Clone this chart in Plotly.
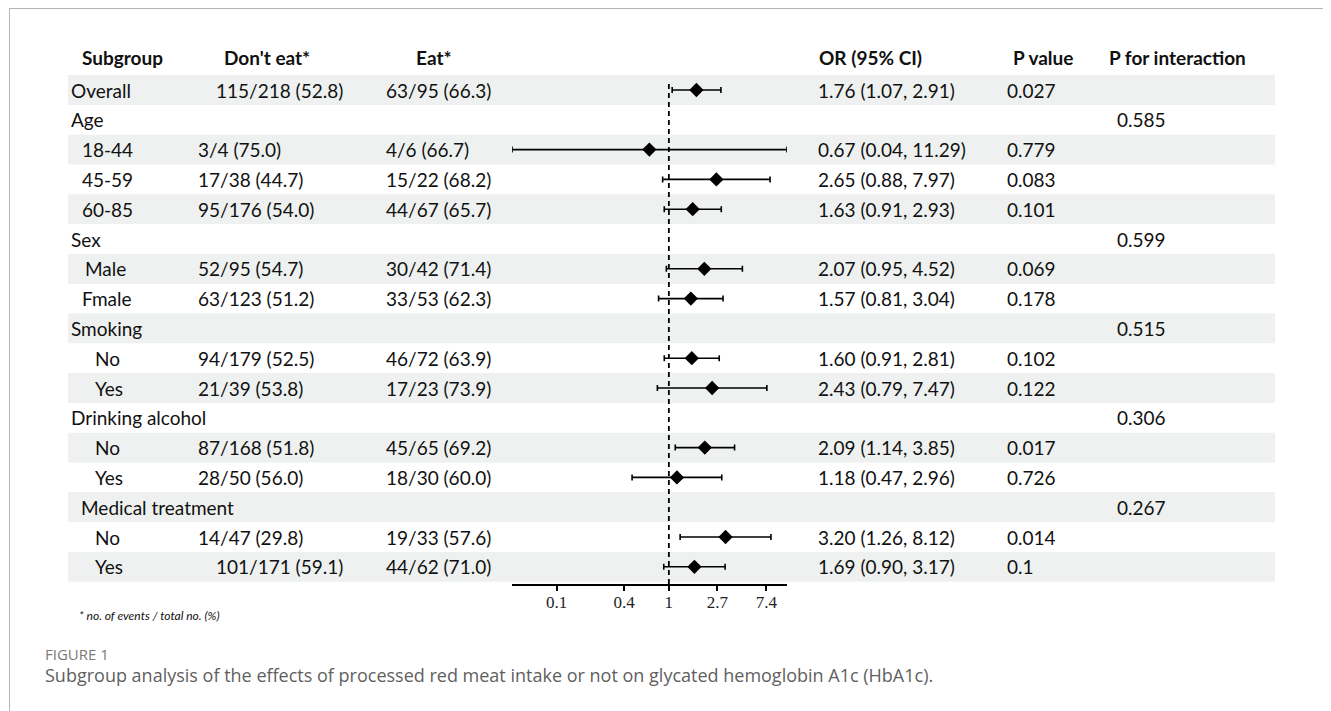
import math
import plotly.graph_objects as go

# ---------------- data ----------------
subgroups = ["Overall", "Age", "18-44", "45-59", "60-85", "Sex", "Male", "Fmale",
             "Smoking", "No", "Yes", "Drinking alcohol", "No", "Yes",
             "Medical treatment", "No", "Yes"]
dont_eat = ["115/218 (52.8)", "", "3/4 (75.0)", "17/38 (44.7)", "95/176 (54.0)", "",
            "52/95 (54.7)", "63/123 (51.2)", "", "94/179 (52.5)", "21/39 (53.8)", "",
            "87/168 (51.8)", "28/50 (56.0)", "", "14/47 (29.8)", "101/171 (59.1)"]
eat = ["63/95 (66.3)", "", "4/6 (66.7)", "15/22 (68.2)", "44/67 (65.7)", "",
       "30/42 (71.4)", "33/53 (62.3)", "", "46/72 (63.9)", "17/23 (73.9)", "",
       "45/65 (69.2)", "18/30 (60.0)", "", "19/33 (57.6)", "44/62 (71.0)"]
or_vals = [1.76, None, 0.67, 2.65, 1.63, None, 2.07, 1.57, None, 1.60, 2.43, None,
           2.09, 1.18, None, 3.20, 1.69]
ci_low = [1.07, None, 0.04, 0.88, 0.91, None, 0.95, 0.81, None, 0.91, 0.79, None,
          1.14, 0.47, None, 1.26, 0.90]
ci_high = [2.91, None, 11.29, 7.97, 2.93, None, 4.52, 3.04, None, 2.81, 7.47, None,
           3.85, 2.96, None, 8.12, 3.17]
p_value = ["0.027", "", "0.779", "0.083", "0.101", "", "0.069", "0.178", "",
           "0.102", "0.122", "", "0.017", "0.726", "", "0.014", "0.1"]
p_interaction = ["", "0.585", "", "", "", "0.599", "", "", "0.515", "", "", "0.306",
                 "", "", "0.267", "", ""]
headers = ["Subgroup", "Don't eat*", "Eat*", "OR (95% CI)", "P value", "P for interaction"]
tick_vals = [0.1, 0.4, 1, 2.7, 7.4]
tick_text = ["0.1", "0.4", "1", "2.7", "7.4"]
footnote = "* no. of events / total no. (%)"
fig_label = "FIGURE 1"
caption = ("Subgroup analysis of the effects of processed red meat intake or not on "
           "glycated hemoglobin A1c (HbA1c).")

# ---------------- layout helpers (screen pixels; page body has an 8px margin) ----------------
W, H = 1331, 711
OFF = 8
ROW0 = 90.0       # screen pixel centre of first row
ROWH = 29.8       # row height in pixels
AXIS_Y = 584      # screen pixel of x axis line
HEADER_Y = 57

def px(x):
    return (x - OFF) / W

def py(y):
    return 1 - (y - OFF) / H

def row_of_pixel(p):
    return (p - ROW0) / ROWH

label_x = [69, 69, 80, 80, 80, 69, 83, 80, 69, 93, 93, 69, 93, 93, 79, 93, 93]
dont_x = [214, 196, 196, 196, 196, 196, 196, 196, 196, 196, 196, 196, 196, 196, 196, 196, 214]
EAT_X, OR_X, P_X, PI_X = 384, 816, 1005, 1115
header_x = [80, 222, 414, 817, 1011, 1107]

FONT = "Lato, 'Open Sans', sans-serif"
FS = 19
TXT = "#111111"

n = len(subgroups)
idx = list(range(n))
plot_idx = [i for i in idx if or_vals[i] is not None]

fig = go.Figure()
fig.add_trace(go.Scatter(
    x=[or_vals[i] for i in plot_idx],
    y=plot_idx,
    mode="markers",
    marker=dict(symbol="diamond", size=11, color="black"),
    error_x=dict(type="data", symmetric=False,
                 array=[ci_high[i] - or_vals[i] for i in plot_idx],
                 arrayminus=[or_vals[i] - ci_low[i] for i in plot_idx],
                 color="black", thickness=1.6, width=3),
    showlegend=False, hoverinfo="skip",
))

shapes = []
for i in idx:
    if i % 2 == 0:
        shapes.append(dict(type="rect", xref="paper", yref="y", layer="below",
                           x0=px(68), x1=px(1275), y0=i - 0.5, y1=i + 0.5,
                           fillcolor="#eef1f0", line=dict(width=0)))
shapes.append(dict(type="line", xref="x", yref="y", x0=1, x1=1,
                   y0=-0.2, y1=row_of_pixel(AXIS_Y),
                   line=dict(color="black", width=1.8, dash="5px,4px")))
# frame
shapes.append(dict(type="line", xref="paper", yref="paper", x0=px(9), x1=1,
                   y0=py(8.5), y1=py(8.5), line=dict(color="#b4b4b4", width=1)))
shapes.append(dict(type="line", xref="paper", yref="paper", x0=px(9.5), x1=px(9.5),
                   y0=0, y1=py(8.5), line=dict(color="#b4b4b4", width=1)))

ann = []
def add_text(x, y, text, size=FS, bold=False, yref="y", color=TXT, family=FONT, italic=False):
    ann.append(dict(x=px(x), y=y, xref="paper", yref=yref, text=text, showarrow=False,
                    xanchor="left", yanchor="middle",
                    font=dict(family=family, size=size, color=color,
                              weight="bold" if bold else "normal",
                              style="italic" if italic else "normal")))

for hx, ht in zip(header_x, headers):
    add_text(hx, row_of_pixel(HEADER_Y), ht, bold=True)

for i in idx:
    add_text(label_x[i], i, subgroups[i])
    if dont_eat[i]:
        add_text(dont_x[i], i, dont_eat[i])
    if eat[i]:
        add_text(EAT_X, i, eat[i])
    if or_vals[i] is not None:
        add_text(OR_X, i, f"{or_vals[i]:.2f} ({ci_low[i]:.2f}, {ci_high[i]:.2f})")
    if p_value[i]:
        add_text(P_X, i, p_value[i])
    if p_interaction[i]:
        add_text(PI_X, i, p_interaction[i])

add_text(77, py(615), footnote, size=12, yref="paper", italic=True)
add_text(43, py(654), fig_label, size=15, yref="paper", color="#7a7a7a",
         family="'Open Sans', sans-serif")
add_text(43, py(675), caption, size=18, yref="paper", color="#5f5f5f",
         family="'Open Sans', sans-serif")

fig.update_layout(
    width=W, height=H,
    margin=dict(l=0, r=0, t=0, b=0),
    paper_bgcolor="white", plot_bgcolor="rgba(0,0,0,0)",
    shapes=shapes, annotations=ann,
    xaxis=dict(type="log", domain=[px(512), px(787)],
               range=[math.log10(min(v for v in ci_low if v)),
                      math.log10(max(v for v in ci_high if v))],
               tickvals=tick_vals, ticktext=tick_text, ticks="outside", ticklen=5,
               tickwidth=1.6, tickcolor="black", ticklabelstandoff=-3,
               showline=True, linecolor="black", linewidth=1.6,
               showgrid=False, zeroline=False, fixedrange=True,
               tickfont=dict(family="'Liberation Serif', serif", size=17, color="#222")),
    yaxis=dict(domain=[py(AXIS_Y), 1],
               range=[row_of_pixel(AXIS_Y), row_of_pixel(OFF)],
               visible=False, showgrid=False, zeroline=False, fixedrange=True),
)

fig.write_html("out.html")
